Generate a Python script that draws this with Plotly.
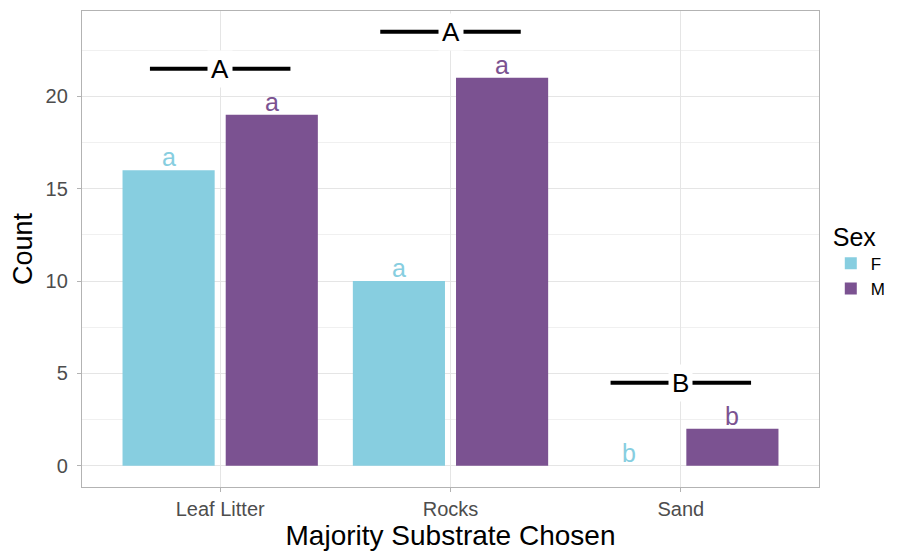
import plotly.graph_objects as go

categories = ["Leaf Litter", "Rocks", "Sand"]
sexes = ["F", "M"]
counts_f = [16, 10, 0]
counts_m = [19, 21, 2]
letters_f = ["a", "a", "b"]
letters_m = ["a", "a", "b"]
group_letters = ["A", "A", "B"]
group_y = [21.5, 23.5, 4.5]

col_f = "#87CEE0"
col_m = "#7B5291"
font_family = "Liberation Sans, Arial, sans-serif"

fig = go.Figure()
fig.add_trace(go.Bar(name="F", x=categories, y=counts_f, marker=dict(color=col_f, line=dict(width=0))))
fig.add_trace(go.Bar(name="M", x=categories, y=counts_m, marker=dict(color=col_m, line=dict(width=0))))

bargap = 0.104
bargroupgap = 0.107
slot = (1 - bargap) / 2
offsets = [-slot / 2, slot / 2]

annotations = []
for i, cat in enumerate(categories):
    for j, (vals, labs, col) in enumerate([(counts_f, letters_f, col_f), (counts_m, letters_m, col_m)]):
        annotations.append(dict(
            x=i + offsets[j], y=vals[i], xref="x", yref="y",
            text=labs[i], showarrow=False, yanchor="bottom", yshift=-3,
            font=dict(family=font_family, size=25, color=col)))
    annotations.append(dict(
        x=i, y=group_y[i], xref="x", yref="y", text=group_letters[i], showarrow=False,
        yanchor="middle", bgcolor="white", borderpad=3,
        font=dict(family=font_family, size=26, color="black")))

shapes = []
half = 0.305
for i in range(len(categories)):
    shapes.append(dict(type="line", xref="x", yref="y", x0=i - half, x1=i + half,
                       y0=group_y[i], y1=group_y[i],
                       line=dict(color="black", width=4), layer="above"))

fig.update_layout(
    width=901, height=553,
    margin=dict(l=74, r=90, t=3, b=74),
    paper_bgcolor="white", plot_bgcolor="white",
    barmode="group", bargap=bargap, bargroupgap=bargroupgap,
    font=dict(family=font_family),
    annotations=annotations, shapes=shapes,
    legend=dict(title=dict(text="Sex", font=dict(size=25, color="black")),
                font=dict(size=17, color="black"),
                x=1.016, xanchor="left", y=0.575, yanchor="top",
                tracegroupgap=0, itemsizing="constant"),
    xaxis=dict(
        range=[-0.6, 2.6], showgrid=True, gridcolor="#e5e5e5", gridwidth=1,
        showline=True, mirror=True, linecolor="#b3b3b3", linewidth=1.3,
        ticks="outside", ticklen=4, tickcolor="#b3b3b3",
        tickfont=dict(size=20, color="#4d4d4d"),
        title=dict(text="Majority Substrate Chosen", font=dict(size=28, color="black"), standoff=4),
        zeroline=False),
    yaxis=dict(
        range=[-1.15, 24.62], dtick=5, tick0=0, showgrid=True, gridcolor="#e5e5e5", gridwidth=1,
        minor=dict(dtick=2.5, tick0=0, showgrid=True, gridcolor="#f0f0f0", gridwidth=0.7),
        showline=True, mirror=True, linecolor="#b3b3b3", linewidth=1.3,
        ticks="outside", ticklen=4, tickcolor="#b3b3b3",
        tickfont=dict(size=20, color="#4d4d4d"), ticklabelstandoff=5,
        title=dict(text="Count", font=dict(size=27, color="black"), standoff=10),
        zeroline=False),
)

fig.write_html("out.html")
